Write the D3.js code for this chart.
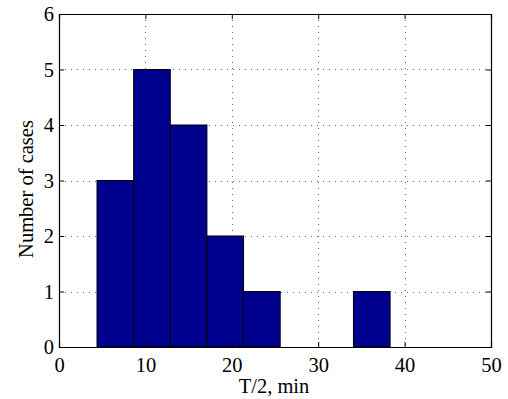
<!DOCTYPE html>
<html>
<head>
<meta charset="utf-8">
<script src="https://cdn.jsdelivr.net/npm/d3@7"></script>
<style>
  body { margin: 0; background: #fff; }
  svg text { font-family: "Liberation Serif", "Times New Roman", Times, serif; fill: #000; }
</style>
</head>
<body>
<svg id="chart" width="508" height="399"></svg>
<script>
// histogram bins (T/2 in minutes) and counts
var binEdges = [4.4, 8.64, 12.88, 17.12, 21.36, 25.6, 29.84, 34.08, 38.32];
var counts = [3, 5, 4, 2, 1, 0, 0, 1];
var xTicks = [0, 10, 20, 30, 40, 50];
var yTicks = [0, 1, 2, 3, 4, 5, 6];

var svg = d3.select("#chart");
var margin = {left: 59, top: 14, right: 17, bottom: 52};
var W = 508, H = 399;
var fs = "20.5px";

var x = d3.scaleLinear().domain([0, 50]).range([margin.left, W - margin.right]);
var y = d3.scaleLinear().domain([0, 6]).range([H - margin.bottom, margin.top]);

// grid
var grid = svg.append("g").attr("class", "grid");
grid.selectAll(".gx").data(xTicks.slice(1, -1)).enter().append("line")
  .attr("x1", function(d) { return Math.round(x(d)) + 0.5; })
  .attr("x2", function(d) { return Math.round(x(d)) + 0.5; })
  .attr("y1", y(6)).attr("y2", y(0))
  .attr("stroke", "#666").attr("stroke-dasharray", "1,5");
grid.selectAll(".gy").data(yTicks.slice(1, -1)).enter().append("line")
  .attr("y1", function(d) { return Math.round(y(d)) + 0.5; })
  .attr("y2", function(d) { return Math.round(y(d)) + 0.5; })
  .attr("x1", x(0)).attr("x2", x(50))
  .attr("stroke", "#666").attr("stroke-dasharray", "1,5");

// bars (empty bins are not drawn)
var bars = [];
for (var i = 0; i < counts.length; ++i) {
  if (counts[i] > 0) bars.push({x0: binEdges[i], x1: binEdges[i + 1], n: counts[i]});
}
svg.append("g").selectAll("rect").data(bars).enter().append("rect")
  .attr("x", function(d) { return x(d.x0); })
  .attr("width", function(d) { return x(d.x1) - x(d.x0); })
  .attr("y", function(d) { return y(d.n); })
  .attr("height", function(d) { return y(0) - y(d.n); })
  .attr("fill", "#00008f")
  .attr("stroke", "#000").attr("stroke-width", 1);

// axes, MATLAB style: inward ticks on all four sides
var tl = 5;
var fmt = d3.format("d");
var axB = d3.axisBottom(x).tickValues(xTicks).tickFormat(fmt).tickSize(-tl).tickPadding(10);
var axT = d3.axisTop(x).tickValues(xTicks).tickSize(-tl).tickFormat("");
var axL = d3.axisLeft(y).tickValues(yTicks).tickFormat(fmt).tickSize(-tl).tickPadding(5);
var axR = d3.axisRight(y).tickValues(yTicks).tickSize(-tl).tickFormat("");

function style(g) {
  g.attr("font-size", null).attr("font-family", null);
  g.select(".domain").attr("stroke", "#000").attr("stroke-width", 1.2);
  g.selectAll(".tick line").attr("stroke", "#000");
  g.selectAll("text").style("font-size", fs);
}
svg.append("g").attr("transform", "translate(0," + y(0) + ")").call(axB).call(style);
svg.append("g").attr("transform", "translate(0," + y(6) + ")").call(axT).call(style);
svg.append("g").attr("transform", "translate(" + x(0) + ",0)").call(axL).call(style);
svg.append("g").attr("transform", "translate(" + x(50) + ",0)").call(axR).call(style);

// labels
svg.append("text")
  .attr("x", 274).attr("y", 393)
  .attr("text-anchor", "middle").style("font-size", fs)
  .text("T/2, min");
svg.append("text")
  .attr("transform", "translate(33,189) rotate(-90)")
  .attr("text-anchor", "middle").style("font-size", fs)
  .text("Number of cases");
</script>
</body>
</html>
